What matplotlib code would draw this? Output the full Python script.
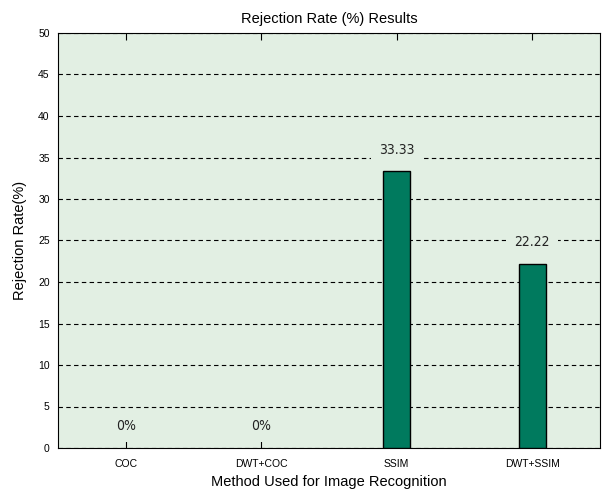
import matplotlib
matplotlib.use("Agg")
from matplotlib import pyplot as plt

methods = ["COC", "DWT+COC", "SSIM", "DWT+SSIM"]
rates = [0, 0, 33.33, 22.22]
labels = ["0%", "0%", "33.33", "22.22"]

fig = plt.figure(figsize=(6.07, 4.92), dpi=100)
ax = fig.add_axes([58/607, 1-448/492, 542/607, 415/492])
ax.set_facecolor("#e2efe3")

pos = list(range(1, len(methods)+1))
edge_w = [1 if v > 0 else 0 for v in rates]
ax.bar(pos, rates, width=0.2, color="#007a5e", edgecolor="black", linewidth=edge_w, zorder=3)

for x, v, t in zip(pos, rates, labels):
    ax.text(x, v + 2.6, t, ha="center", va="center", fontsize=10, family="DejaVu Sans",
            fontstretch="condensed", color="#222222",
            bbox=dict(facecolor="#e2efe3", edgecolor="none", pad=6), zorder=4)

ax.set_xlim(0.5, 4.5)
ax.set_ylim(0, 50)
ax.set_yticks(range(0, 51, 5))
ax.set_xticks(pos)
ax.set_xticklabels(methods)
ax.yaxis.grid(True, linestyle=(0, (4, 3)), color="black", linewidth=0.8, zorder=1)
ax.tick_params(axis="x", direction="in", top=True, length=5, labelsize=7.5, pad=8)
ax.tick_params(axis="y", direction="in", length=0, labelsize=7.5, pad=6)
for lbl in ax.get_xticklabels() + ax.get_yticklabels():
    lbl.set_family("Liberation Sans")

ax.set_title("Rejection Rate (%) Results", fontsize=10.5, family="Liberation Sans", pad=7)
ax.set_xlabel("Method Used for Image Recognition", fontsize=10.5, family="Liberation Sans", labelpad=4)
ax.set_ylabel("Rejection Rate(%)", fontsize=10.5, family="Liberation Sans", labelpad=8)

fig.savefig("out.png", dpi=100)
